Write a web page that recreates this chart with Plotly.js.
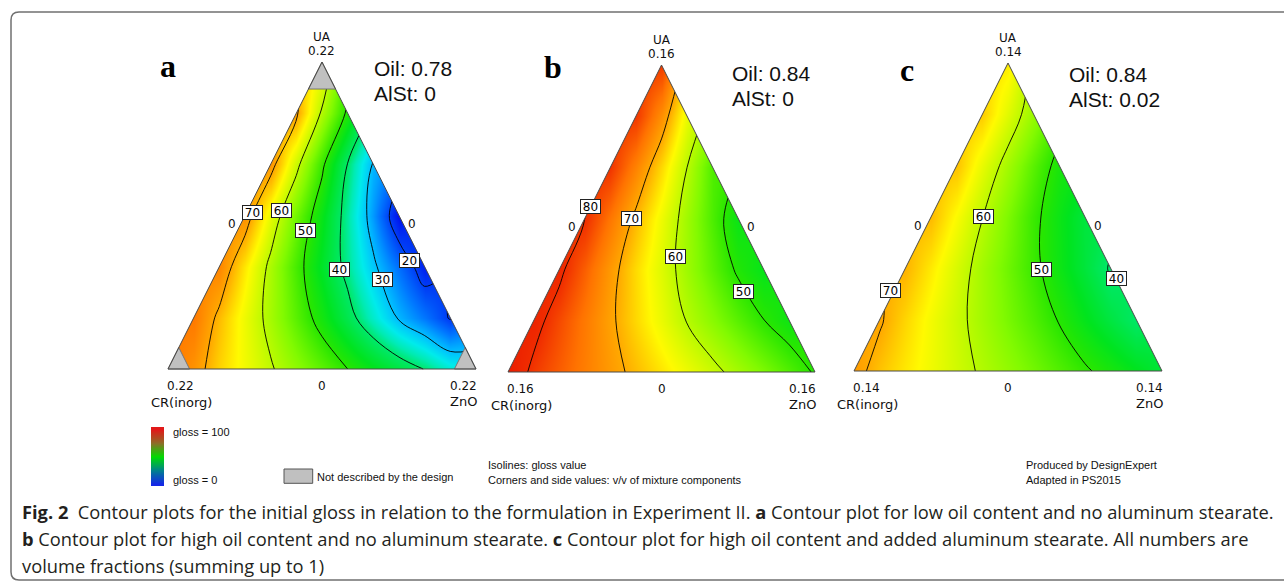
<!DOCTYPE html>
<html><head><meta charset="utf-8">
<script src="https://cdn.plot.ly/plotly-3.0.1.min.js"></script>
<style>html,body{margin:0;padding:0;background:#fff;} #chart{width:1284px;height:582px;}</style>
</head><body><div id="chart"></div>
<script>
// ================= DATA =================
const panelLetters = ['a', 'b', 'c'];
const oilLevels = ['0.78', '0.84', '0.84'];
const alstLevels = ['0', '0', '0.02'];
const cornerMax = ['0.22', '0.16', '0.14'];
const sideValue = '0';
const componentTop = 'UA';
const componentLeft = 'CR(inorg)';
const componentRight = 'ZnO';
const contourStart = 10, contourEnd = 90, contourStep = 10;

// Estimated gloss on a triangular lattice (row 0 = base ... row 6 = apex),
// row j holds the values from the left side to the right side.
const glossA = [
  [75, 72, 67.5, 64, 60.5, 57, 53.5, 50, 46.5, 43.2, 39.8, 35.5, 33],
  [74.5, 69, 63.7, 58.4, 53.3, 48, 42.1, 35.8, 29.4, 24.8, 19.5],
  [73.5, 66.1, 58.8, 52, 45.2, 38.3, 31, 24.2, 17],
  [72.5, 63.1, 54.9, 46.8, 37.7, 27.4, 15.5],
  [72, 61.4, 51.1, 39.8, 29.5],
  [71, 59.3, 49],
  [65]
];
const glossB = [
  [83, 79.1, 76.6, 74, 71.5, 68.9, 66.3, 63.8, 61.2, 58.5, 55.7, 52.8, 49.5],
  [81.5, 78, 74.4, 70.8, 67.1, 63.5, 59.8, 56.5, 53.3, 50.1, 47.5],
  [81, 76.4, 71.6, 66.9, 62.5, 58, 53.5, 49.3, 46.5],
  [80, 74.7, 69.1, 63.7, 58.1, 52.3, 47],
  [79.6, 73.6, 67, 60, 52.5],
  [79.3, 72.4, 63.5],
  [79]
];
const glossC = [
  [71.5, 68.4, 66.1, 63.9, 61.6, 59.4, 57.2, 55, 52.8, 50.6, 48.4, 46.2, 44],
  [70.5, 67.3, 64.2, 61.2, 58.3, 55.4, 52.6, 49.7, 46.4, 43.2, 40.3],
  [69.5, 66, 62.1, 58.3, 54.7, 51.1, 47.4, 43.7, 39.5],
  [69, 64.6, 60.1, 55.7, 51.1, 47.2, 43.5],
  [68.5, 63.4, 58.3, 53.2, 48.5],
  [68, 62.8, 57.5],
  [66]
];

// Isoline labels (value, position as fraction of base width / height)
const labelValA = [70, 60, 50, 40, 30, 20];
const labelXA = [0.275, 0.367, 0.447, 0.558, 0.695, 0.783];
const labelYA = [0.510, 0.515, 0.450, 0.325, 0.290, 0.352];
const labelValB = [80, 70, 60, 50];
const labelXB = [0.269, 0.403, 0.544, 0.767];
const labelYB = [0.538, 0.501, 0.376, 0.262];
const labelValC = [70, 60, 50, 40];
const labelXC = [0.120, 0.420, 0.609, 0.851];
const labelYC = [0.261, 0.501, 0.328, 0.301];

// Regions not described by the design (panel a): top, left, right corner sizes
const unexploredA = [0.088, 0.07, 0.07];

// Legend colour bar values
const legendValues = [0, 10, 20, 30, 40, 50, 60, 70, 80, 90, 100];

// ================= LAYOUT / STYLE =================
const W = 1284, H = 582;
const boxes = [
  {l: 168, r: 476, t: 62, b: 369},
  {l: 508, r: 815, t: 65, b: 372},
  {l: 854, r: 1162, t: 63, b: 371}
];
const pad = 0.03;

const glossScale = [
  [0, 'rgb(0,0,230)'], [0.15, 'rgb(0,10,235)'], [0.20, 'rgb(0,60,245)'],
  [0.25, 'rgb(0,120,255)'], [0.30, 'rgb(0,190,255)'], [0.34, 'rgb(0,235,235)'],
  [0.37, 'rgb(0,235,180)'], [0.40, 'rgb(0,232,105)'], [0.46, 'rgb(0,228,30)'],
  [0.50, 'rgb(40,230,0)'], [0.56, 'rgb(130,250,0)'], [0.65, 'rgb(255,250,0)'],
  [0.70, 'rgb(255,170,0)'], [0.75, 'rgb(255,115,0)'], [0.80, 'rgb(240,45,0)'],
  [0.86, 'rgb(228,10,0)'], [1, 'rgb(220,0,0)']
];
const legendScale = [
  [0, 'rgb(20,40,230)'], [0.25, 'rgb(0,130,140)'], [0.5, 'rgb(0,220,0)'],
  [0.75, 'rgb(140,110,40)'], [1, 'rgb(225,25,25)']
];

const N = 12, R = 6;
const latticeX = [], latticeY = [];
for (let i = 0; i <= N; i++) latticeX.push(i / N);
for (let j = 0; j <= R; j++) latticeY.push(j / R);

function toMatrix(rows) {
  const z = [];
  for (let j = 0; j <= R; j++) {
    const row = new Array(N + 1).fill(null);
    rows[j].forEach((v, k) => { row[j + k] = v; });
    z.push(row);
  }
  return z;
}

const glossSets = [glossA, glossB, glossC];
const labelSets = [[labelValA, labelXA, labelYA], [labelValB, labelXB, labelYB], [labelValC, labelXC, labelYC]];

const traces = [];
const layout = {
  width: W, height: H, margin: {l: 0, r: 0, t: 0, b: 0},
  paper_bgcolor: '#fff', plot_bgcolor: 'rgba(0,0,0,0)',
  showlegend: false, shapes: [], annotations: []
};

function pp(i, xn, yn) {
  const B = boxes[i];
  return {x: (B.l + xn * (B.r - B.l)) / W, y: 1 - (B.b - yn * (B.b - B.t)) / H};
}
function pxp(px, py) { return {x: px / W, y: 1 - py / H}; }
function ann(pos, text, font, extra) {
  return Object.assign({xref: 'paper', yref: 'paper', x: pos.x, y: pos.y, text: text,
    showarrow: false, font: font, xanchor: 'center', yanchor: 'middle'}, extra || {});
}
const fSmall = {family: 'DejaVu Sans', size: 12, color: '#111'};
const fName = {family: 'DejaVu Sans', size: 13, color: '#111'};
const fOil = {family: 'Liberation Sans', size: 21, color: '#111'};
const fLetter = {family: 'Liberation Serif', size: 32, color: '#000'};
const fLegend = {family: 'Liberation Sans', size: 11, color: '#111'};

const oilPos = [[371.7, 68.3, 93.3], [730, 73.3, 98.3], [1067.3, 74.2, 99.2]];
const letterPos = [[168, 66], [552.5, 67], [906.7, 69.5]];

for (let i = 0; i < 3; i++) {
  const B = boxes[i], w = B.r - B.l, h = B.b - B.t;
  const s = i === 0 ? '' : String(i + 1);
  layout['xaxis' + s] = {domain: [(B.l - pad * w) / W, (B.r + pad * w) / W], range: [-pad, 1 + pad],
    visible: false, fixedrange: true, anchor: 'y' + s};
  layout['yaxis' + s] = {domain: [1 - (B.b + pad * h) / H, 1 - (B.t - pad * h) / H], range: [-pad, 1 + pad],
    visible: false, fixedrange: true, anchor: 'x' + s};

  traces.push({
    type: 'contour', x: latticeX, y: latticeY, z: toMatrix(glossSets[i]),
    xaxis: 'x' + s, yaxis: 'y' + s, connectgaps: true,
    zauto: false, zmin: 0, zmax: 100, colorscale: glossScale, showscale: false,
    contours: {start: contourStart, end: contourEnd, size: contourStep, coloring: 'heatmap', showlines: true},
    line: {color: '#000', width: 0.9, smoothing: 1}, hoverinfo: 'skip'
  });

  const xr = 'x' + s, yr = 'y' + s;
  // white masks outside the triangle
  layout.shapes.push({type: 'path', xref: xr, yref: yr, path: 'M -0.05,-0.01 L 0,0 L 0.5,1 L 0.5,1.05 L -0.05,1.05 Z',
    fillcolor: '#fff', line: {width: 0}});
  layout.shapes.push({type: 'path', xref: xr, yref: yr, path: 'M 1.05,-0.01 L 1,0 L 0.5,1 L 0.5,1.05 L 1.05,1.05 Z',
    fillcolor: '#fff', line: {width: 0}});
  if (i === 0) {
    const t = unexploredA[0], cl = unexploredA[1], cr = unexploredA[2];
    const gs = {fillcolor: '#c0c0c0', line: {color: '#777', width: 1}};
    layout.shapes.push(Object.assign({type: 'path', xref: xr, yref: yr,
      path: `M 0.5,1 L ${0.5 - t / 2},${1 - t} L ${0.5 + t / 2},${1 - t} Z`}, gs));
    layout.shapes.push(Object.assign({type: 'path', xref: xr, yref: yr,
      path: `M 0,0 L ${cl},0 L ${cl / 2},${cl} Z`}, gs));
    layout.shapes.push(Object.assign({type: 'path', xref: xr, yref: yr,
      path: `M 1,0 L ${1 - cr},0 L ${1 - cr / 2},${cr} Z`}, gs));
  }
  layout.shapes.push({type: 'path', xref: xr, yref: yr, path: 'M 0,0 L 1,0 L 0.5,1 Z',
    fillcolor: 'rgba(0,0,0,0)', line: {color: '#4a4a4a', width: 1}});

  // texts
  const A = layout.annotations;
  A.push(ann(pxp(letterPos[i][0], letterPos[i][1]), '<b>' + panelLetters[i] + '</b>', fLetter));
  A.push(ann(pxp(oilPos[i][0], oilPos[i][1]), 'Oil: ' + oilLevels[i], fOil, {xanchor: 'left'}));
  A.push(ann(pxp(oilPos[i][0], oilPos[i][2]), 'AlSt: ' + alstLevels[i], fOil, {xanchor: 'left'}));
  A.push(ann(pp(i, 0.5, 1.082), componentTop, fSmall));
  A.push(ann(pp(i, 0.5, 1.036), cornerMax[i], fSmall));
  A.push(ann(pp(i, 0.04, -0.056), cornerMax[i], fSmall));
  A.push(ann(pp(i, 0.045, -0.108), componentLeft, fName));
  A.push(ann(pp(i, 0.5, -0.056), sideValue, fSmall));
  A.push(ann(pp(i, 0.96, -0.056), cornerMax[i], fSmall));
  A.push(ann(pp(i, 0.958, -0.106), componentRight, fName));
  A.push(ann(pp(i, 0.207, 0.472), sideValue, fSmall));
  A.push(ann(pp(i, 0.791, 0.472), sideValue, fSmall));
  const [lv, lx, ly] = labelSets[i];
  lv.forEach((v, k) => {
    A.push(ann(pp(i, lx[k], ly[k]), String(v), {family: 'DejaVu Sans', size: 12, color: '#000'},
      {bgcolor: '#fff', bordercolor: '#222', borderwidth: 1, borderpad: 0, width: 19, height: 13}));
  });
}

// legend colour bar
layout.xaxis4 = {domain: [151 / W, 164 / W], range: [-0.5, 1.5], visible: false, fixedrange: true, anchor: 'y4'};
layout.yaxis4 = {domain: [1 - 486 / H, 1 - 427 / H], range: [-0.5, legendValues.length - 0.5], visible: false, fixedrange: true, anchor: 'x4'};
traces.push({type: 'heatmap', z: legendValues.map(v => [v, v]), xaxis: 'x4', yaxis: 'y4',
  colorscale: legendScale, zmin: 0, zmax: 100, zsmooth: 'best', showscale: false, hoverinfo: 'skip'});

const A = layout.annotations;
A.push(ann(pxp(171, 431.7), 'gloss = 100', fLegend, {xanchor: 'left'}));
A.push(ann(pxp(171, 480), 'gloss = 0', fLegend, {xanchor: 'left'}));
A.push(ann(pxp(315, 477), 'Not described by the design', fLegend, {xanchor: 'left'}));
A.push(ann(pxp(486, 465), 'Isolines: gloss value', fLegend, {xanchor: 'left'}));
A.push(ann(pxp(486, 479.5), 'Corners and side values: v/v of mixture components', fLegend, {xanchor: 'left'}));
A.push(ann(pxp(1024, 465), 'Produced by DesignExpert', fLegend, {xanchor: 'left'}));
A.push(ann(pxp(1024, 479.5), 'Adapted in PS2015', fLegend, {xanchor: 'left'}));

layout.shapes.push({type: 'rect', xref: 'paper', yref: 'paper', x0: 284 / W, x1: 312.7 / W,
  y0: 1 - 483.3 / H, y1: 1 - 469 / H, fillcolor: '#c0c0c0', line: {color: '#555', width: 1}});

// caption
const fCap = {family: 'Open Sans', size: 18.3, color: '#231f20'};
const capLines = [
  '<b>Fig. 2</b>\u00a0\u00a0Contour plots for the initial gloss in relation to the formulation in Experiment II. <b>a</b> Contour plot for low oil content and no aluminum stearate.',
  '<b>b</b> Contour plot for high oil content and no aluminum stearate. <b>c</b> Contour plot for high oil content and added aluminum stearate. All numbers are',
  'volume fractions (summing up to 1)'
];
const capY = [511.7, 538.5, 565];
capLines.forEach((t, k) => A.push(ann(pxp(20, capY[k]), t, fCap, {xanchor: 'left'})));

// frame
const fx = v => (v / W).toFixed(5), fy = v => (1 - v / H).toFixed(5);
layout.shapes.push({type: 'path', xref: 'paper', yref: 'paper',
  path: `M ${fx(1300)},${fy(580)} L ${fx(19)},${fy(580)} Q ${fx(11)},${fy(580)} ${fx(11)},${fy(572)} L ${fx(11)},${fy(20)} Q ${fx(11)},${fy(12)} ${fx(19)},${fy(12)} L ${fx(1300)},${fy(12)}`,
  line: {color: '#707070', width: 1.5}, fillcolor: 'rgba(0,0,0,0)'});

Plotly.newPlot('chart', traces, layout, {staticPlot: true, displayModeBar: false});
</script></body></html>
